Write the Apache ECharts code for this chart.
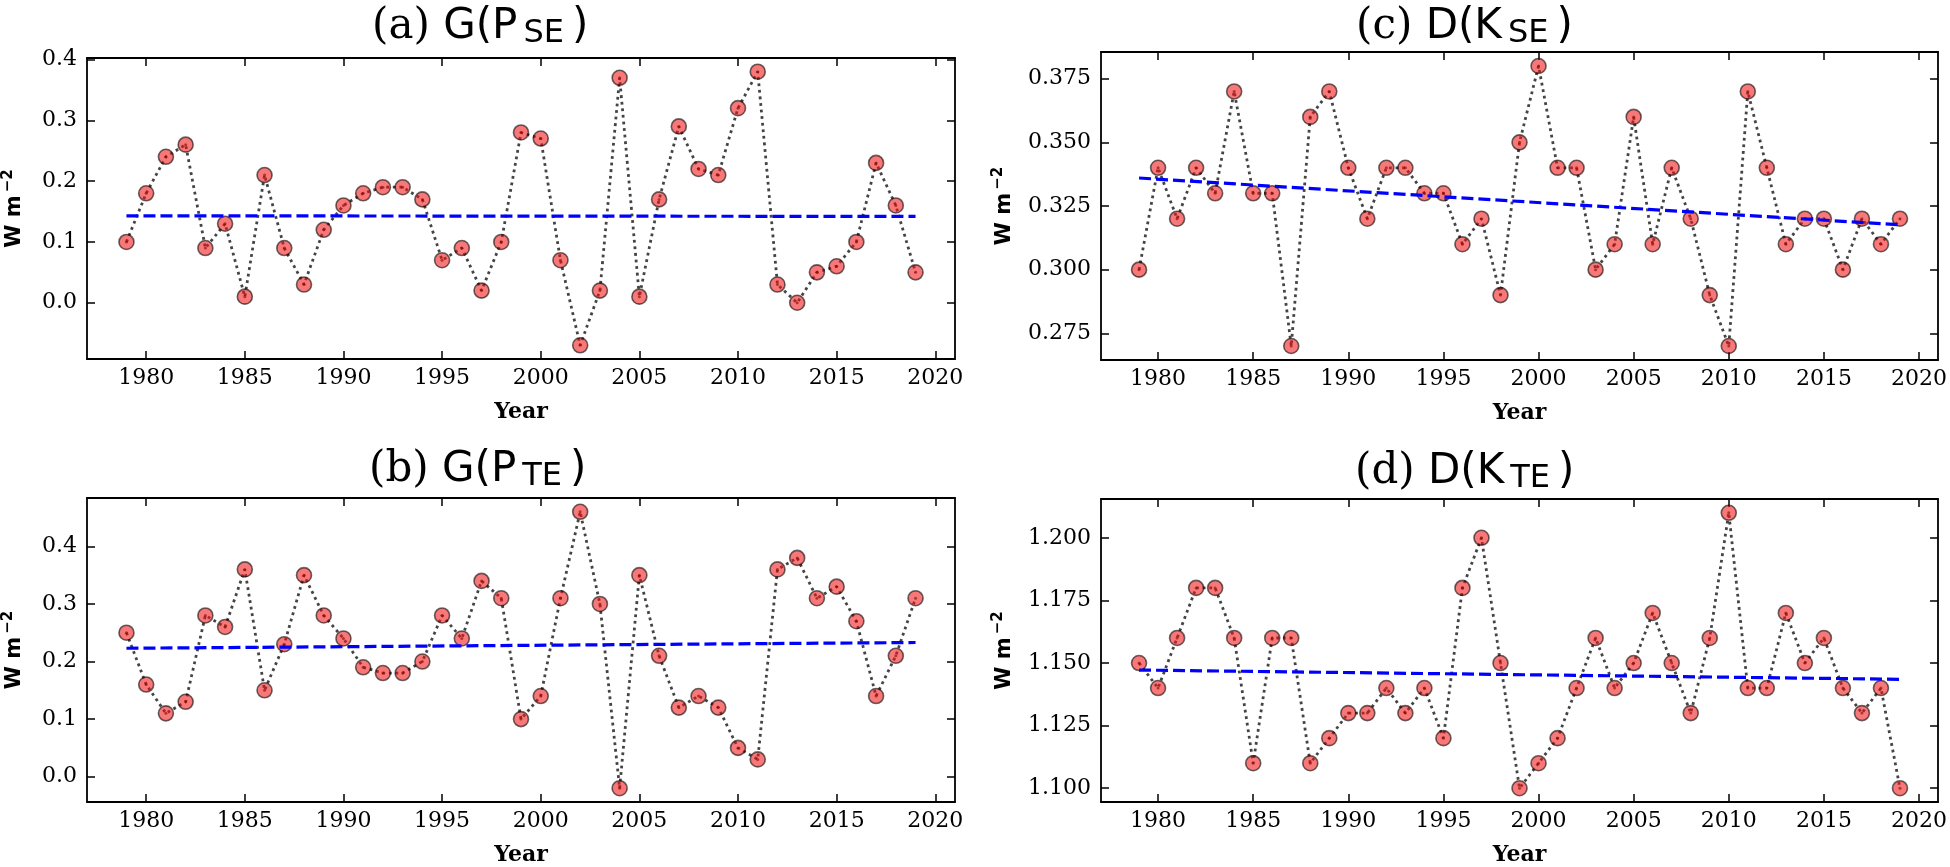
<!DOCTYPE html>
<html>
<head>
<meta charset="utf-8">
<script src="https://cdn.jsdelivr.net/npm/echarts@6/dist/echarts.min.js"></script>
<style>
html,body{margin:0;padding:0;background:#ffffff;}
#chart{width:1950px;height:867px;}
</style>
</head>
<body>
<div id="chart"></div>
<script>
// ---------------- data ----------------
const years = [1979,1980,1981,1982,1983,1984,1985,1986,1987,1988,1989,1990,1991,1992,1993,1994,1995,1996,1997,1998,1999,2000,2001,2002,2003,2004,2005,2006,2007,2008,2009,2010,2011,2012,2013,2014,2015,2016,2017,2018,2019];

const gPSE = [0.10,0.18,0.24,0.26,0.09,0.13,0.01,0.21,0.09,0.03,0.12,0.16,0.18,0.19,0.19,0.17,0.07,0.09,0.02,0.10,0.28,0.27,0.07,-0.07,0.02,0.37,0.01,0.17,0.29,0.22,0.21,0.32,0.38,0.03,0.00,0.05,0.06,0.10,0.23,0.16,0.05];
const gPTE = [0.25,0.16,0.11,0.13,0.28,0.26,0.36,0.15,0.23,0.35,0.28,0.24,0.19,0.18,0.18,0.20,0.28,0.24,0.34,0.31,0.10,0.14,0.31,0.46,0.30,-0.02,0.35,0.21,0.12,0.14,0.12,0.05,0.03,0.36,0.38,0.31,0.33,0.27,0.14,0.21,0.31];
const dKSE = [0.300,0.340,0.320,0.340,0.330,0.370,0.330,0.330,0.270,0.360,0.370,0.340,0.320,0.340,0.340,0.330,0.330,0.310,0.320,0.290,0.350,0.380,0.340,0.340,0.300,0.310,0.360,0.310,0.340,0.320,0.290,0.270,0.370,0.340,0.310,0.320,0.320,0.300,0.320,0.310,0.320];
const dKTE = [1.150,1.140,1.160,1.180,1.180,1.160,1.110,1.160,1.160,1.110,1.120,1.130,1.130,1.140,1.130,1.140,1.120,1.180,1.200,1.150,1.100,1.110,1.120,1.140,1.160,1.140,1.150,1.170,1.150,1.130,1.160,1.210,1.140,1.140,1.170,1.150,1.160,1.140,1.130,1.140,1.100];

// trend line end points (read at 1979 and 2019)
const trendYears = [1979, 2019];
const trendA = [0.143, 0.142];
const trendB = [0.223, 0.233];
const trendC = [0.336, 0.3176];
const trendD = [1.1472, 1.1435];

// tick labels
const xTicks = [1980,1985,1990,1995,2000,2005,2010,2015,2020];
const yTicksA = [0.0,0.1,0.2,0.3,0.4];
const yTicksB = [0.0,0.1,0.2,0.3,0.4];
const yTicksC = [0.275,0.300,0.325,0.350,0.375];
const yTicksD = [1.100,1.125,1.150,1.175,1.200];

// titles
const titleA = ['(a)', 'G(P', 'SE', ')'];
const titleB = ['(b)', 'G(P', 'TE', ')'];
const titleC = ['(c)', 'D(K', 'SE', ')'];
const titleD = ['(d)', 'D(K', 'TE', ')'];

// ---------------- layout ----------------
const panels = [
  {grid:{left:85, top:58, width:870, height:301}, vals:gPSE, trend:trendA, yt:yTicksA, ymin:-0.0925, ymax:0.4025, dec:1, title:titleA, tl:372, tt:4, nameGap:58},
  {grid:{left:85, top:498, width:870, height:310}, vals:gPTE, trend:trendB, yt:yTicksB, ymin:-0.044, ymax:0.484, dec:1, title:titleB, tl:369, tt:447, nameGap:58},
  {grid:{left:1101, top:52, width:840, height:308}, vals:dKSE, trend:trendC, yt:yTicksC, ymin:0.2645, ymax:0.3855, dec:3, title:titleC, tl:1356, tt:4, nameGap:82},
  {grid:{left:1101, top:499, width:840, height:309}, vals:dKTE, trend:trendD, yt:yTicksD, ymin:1.0945, ymax:1.2155, dec:3, title:titleD, tl:1355, tt:449, nameGap:82}
];

const SERIF = 'DejaVu Serif';
const SANS = 'DejaVu Sans';
const axisCol = '#000000';

const grids = [], xAxes = [], yAxes = [], series = [], titles = [];

panels.forEach((p, i) => {
  grids.push(Object.assign({containLabel:false}, p.grid));

  const tickCommon = {show:true, inside:true, length:8, lineStyle:{color:axisCol, width:1.5}};
  // bottom x axis
  xAxes.push({
    type:'value', gridIndex:i, min:1977, max:2021, position:'bottom',
    axisLine:{show:true, onZero:false, lineStyle:{color:axisCol, width:1.8}},
    axisTick:Object.assign({customValues:xTicks}, tickCommon),
    axisLabel:{show:true, customValues:xTicks, margin:8, fontFamily:SERIF, fontSize:22, color:'#000', formatter:v=>String(v)},
    splitLine:{show:false},
    name:'Year', nameLocation:'middle', nameGap:42,
    nameTextStyle:{fontFamily:SERIF, fontWeight:'bold', fontSize:22, color:'#000'}
  });
  // top x axis (frame + ticks)
  xAxes.push({
    type:'value', gridIndex:i, min:1977, max:2021, position:'top',
    axisLine:{show:true, onZero:false, lineStyle:{color:axisCol, width:1.8}},
    axisTick:Object.assign({customValues:xTicks}, tickCommon),
    axisLabel:{show:false}, splitLine:{show:false}
  });
  // left y axis
  yAxes.push({
    type:'value', gridIndex:i, min:p.ymin, max:p.ymax, position:'left',
    axisLine:{show:true, onZero:false, lineStyle:{color:axisCol, width:1.8}},
    axisTick:Object.assign({customValues:p.yt}, tickCommon),
    axisLabel:{show:true, customValues:p.yt, margin:10, fontFamily:SERIF, fontSize:22, color:'#000', formatter:v=>Number(v).toFixed(p.dec)},
    splitLine:{show:false},
    name:'{w|W m}{s|\u22122}', nameLocation:'middle', nameRotate:90, nameGap:p.nameGap,
    nameTextStyle:{rich:{
      w:{fontFamily:SANS, fontWeight:'bold', fontSize:21, color:'#000', lineHeight:28},
      s:{fontFamily:SANS, fontWeight:'bold', fontSize:15, color:'#000', lineHeight:14, verticalAlign:'top', padding:[0,0,0,3]}
    }}
  });
  // right y axis
  yAxes.push({
    type:'value', gridIndex:i, min:p.ymin, max:p.ymax, position:'right',
    axisLine:{show:true, onZero:false, lineStyle:{color:axisCol, width:1.8}},
    axisTick:Object.assign({customValues:p.yt}, tickCommon),
    axisLabel:{show:false}, splitLine:{show:false}
  });

  const xi = i*2, yi = i*2;
  const pts = years.map((y, k) => [y, p.vals[k]]);
  series.push({
    type:'line', xAxisIndex:xi, yAxisIndex:yi, data:pts, symbol:'none', z:2,
    lineStyle:{color:'#444444', width:2.8, type:[2.8,3.8], cap:'butt'}
  });
  series.push({
    type:'scatter', xAxisIndex:xi, yAxisIndex:yi, data:pts, symbol:'circle', symbolSize:15, z:3,
    itemStyle:{color:'rgba(240,20,20,0.72)', borderColor:'rgba(0,0,0,0.72)', borderWidth:1.6}
  });
  series.push({
    type:'scatter', xAxisIndex:xi, yAxisIndex:yi, data:pts, symbol:'circle', symbolSize:3, z:4,
    itemStyle:{color:'rgba(140,0,0,0.75)'}
  });
  series.push({
    type:'line', xAxisIndex:xi, yAxisIndex:yi, z:5, symbol:'none',
    data:trendYears.map((y, k) => [y, p.trend[k]]),
    lineStyle:{color:'#0000ff', width:3.2, type:[12,5]}
  });

  const t = p.title;
  titles.push({
    left:p.tl, top:p.tt, padding:0,
    text:'{p|' + t[0] + ' }{m|' + t[1] + '}{s|' + t[2] + '}{m|' + t[3] + '}',
    textStyle:{fontWeight:'normal', rich:{
      p:{fontFamily:SERIF, fontWeight:'normal', fontSize:42, color:'#000', lineHeight:46},
      m:{fontFamily:SANS, fontWeight:'normal', fontSize:42, color:'#000', lineHeight:46},
      s:{fontFamily:SANS, fontWeight:'normal', fontSize:32, color:'#000', lineHeight:25, verticalAlign:'bottom', padding:[0,8,0,6]}
    }}
  });
});

const chart = echarts.init(document.getElementById('chart'), null, {renderer:'canvas'});
chart.setOption({
  animation:false,
  backgroundColor:'#ffffff',
  title:titles,
  grid:grids,
  xAxis:xAxes,
  yAxis:yAxes,
  series:series
});
</script>
</body>
</html>
